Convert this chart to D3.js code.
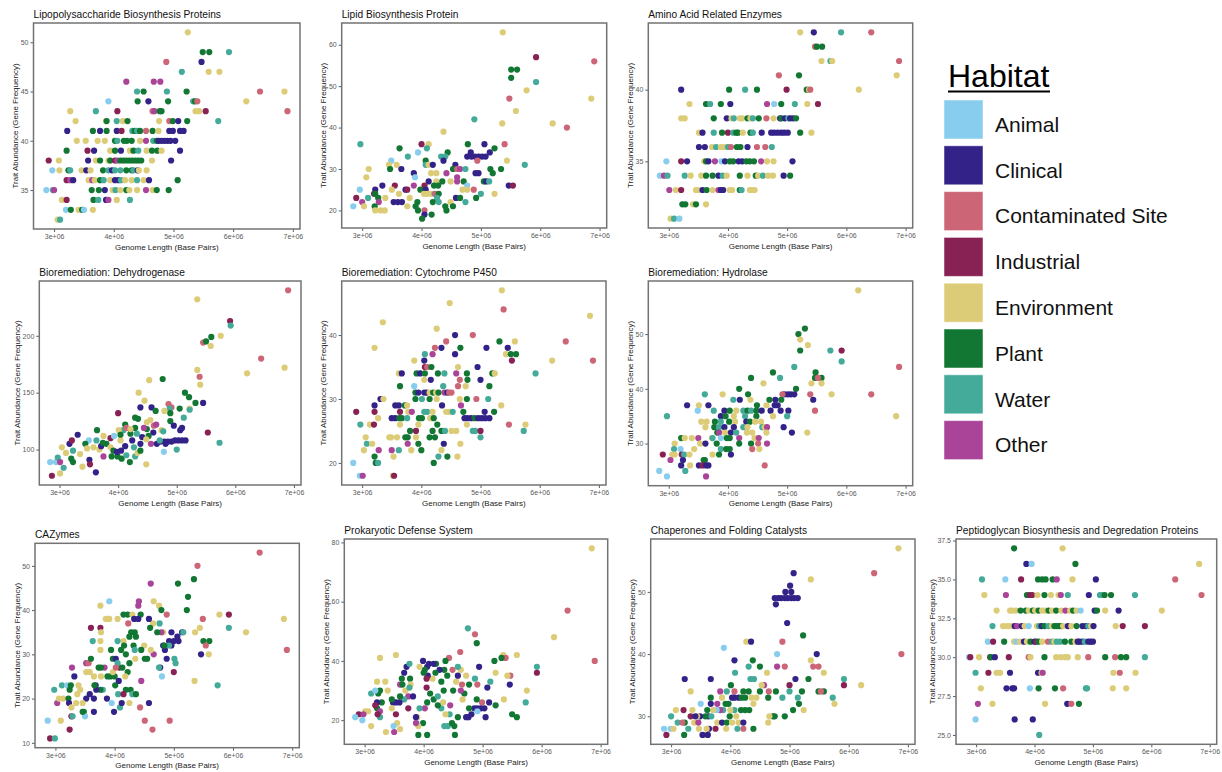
<!DOCTYPE html>
<html>
<head>
<meta charset="utf-8">
<script src="https://cdn.jsdelivr.net/npm/d3@7"></script>
<style>
  body { margin: 0; background: #ffffff; }
  svg { display: block; }
  text { font-family: "Liberation Sans", Arial, Helvetica, sans-serif; }
</style>
</head>
<body>
<svg id="chart" width="1222" height="772"></svg>
<script>
// Habitat categories and their colours
const habitats = ["Animal", "Clinical", "Contaminated Site", "Industrial", "Environment", "Plant", "Water", "Other"];
const habitatCodes = ["A", "C", "T", "I", "E", "P", "W", "O"];
const habitatColors = ["#88CCEE", "#332288", "#CC6677", "#882255", "#DDCC77", "#117733", "#44AA99", "#AA4499"];

// Genome length axis, in millions of base pairs
const genomeDomain = [2.655, 7.12];
const genomeTicks = [3, 4, 5, 6, 7];

// Each point: [genome length (Mbp), gene count, habitat code]
const lpsPoints = [
  [5.24,51,"E"],
  [5.49,49,"P"],[5.60,49,"P"],[5.93,49,"W"],
  [4.88,48,"T"],[5.47,48,"C"],
  [5.14,47,"W"],[5.59,47,"E"],[5.77,47,"E"],
  [4.21,46,"O"],[4.67,46,"O"],[4.78,46,"O"],
  [4.39,45,"W"],[4.50,45,"P"],[4.89,45,"W"],[5.22,45,"P"],[6.45,45,"T"],[6.86,45,"E"],
  [3.91,44,"A"],[4.40,44,"P"],[4.58,44,"C"],[4.91,44,"P"],[5.33,44,"W"],[5.36,44,"P"],[5.40,44,"T"],[6.22,44,"E"],
  [3.27,43,"E"],[3.70,43,"W"],[4.06,43,"I"],[4.65,43,"T"],[4.68,43,"O"],[4.77,43,"P"],[4.80,43,"P"],[5.37,43,"E"],[5.43,43,"E"],[5.54,43,"I"],[6.91,43,"T"],
  [3.36,42,"E"],[3.87,42,"E"],[3.88,42,"P"],[4.05,42,"W"],[4.15,42,"E"],[4.23,42,"P"],[4.76,42,"E"],[4.93,42,"T"],[4.99,42,"P"],[5.08,42,"C"],[5.23,42,"P"],[5.75,42,"W"],
  [3.22,41,"C"],[3.65,41,"P"],[3.77,41,"C"],[3.88,41,"P"],[4.05,41,"C"],[4.13,41,"I"],[4.31,41,"W"],[4.35,41,"P"],[4.39,41,"W"],[4.44,41,"P"],[4.54,41,"T"],[4.65,41,"P"],[4.75,41,"E"],[4.93,41,"C"],[4.99,41,"C"],[5.11,41,"C"],[5.17,41,"C"],
  [3.38,40,"E"],[3.53,40,"E"],[3.73,40,"E"],[3.85,40,"E"],[4.02,40,"P"],[4.06,40,"W"],[4.17,40,"P"],[4.22,40,"P"],[4.30,40,"P"],[4.44,40,"E"],[4.54,40,"O"],[4.66,40,"W"],[4.72,40,"P"],[4.75,40,"C"],[4.80,40,"C"],[4.85,40,"C"],[4.90,40,"C"],[4.95,40,"C"],[5.03,40,"C"],
  [3.21,39,"P"],[3.56,39,"I"],[3.67,39,"C"],[3.94,39,"E"],[4.02,39,"P"],[4.12,39,"C"],[4.27,39,"E"],[4.33,39,"P"],[4.41,39,"W"],[4.55,39,"E"],[4.64,39,"P"],[4.73,39,"P"],[4.80,39,"E"],[5.11,39,"C"],
  [2.91,38,"I"],[3.08,38,"E"],[3.57,38,"C"],[3.70,38,"E"],[3.77,38,"P"],[3.91,38,"E"],[3.94,38,"P"],[4.02,38,"I"],[4.06,38,"O"],[4.11,38,"P"],[4.16,38,"P"],[4.21,38,"P"],[4.26,38,"P"],[4.31,38,"P"],[4.36,38,"P"],[4.41,38,"P"],[4.46,38,"P"],[4.64,38,"E"],[4.96,38,"C"],
  [2.97,37,"A"],[3.09,37,"E"],[3.24,37,"P"],[3.27,37,"W"],[3.46,37,"E"],[3.54,37,"C"],[3.61,37,"E"],[3.82,37,"P"],[3.91,37,"W"],[3.97,37,"C"],[4.02,37,"W"],[4.11,37,"W"],[4.21,37,"P"],[4.30,37,"P"],[4.33,37,"W"],[4.40,37,"C"],[4.42,37,"E"],[4.55,37,"E"],
  [3.21,36,"I"],[3.27,36,"O"],[3.32,36,"C"],[3.58,36,"E"],[3.64,36,"O"],[3.68,36,"E"],[3.77,36,"P"],[3.83,36,"W"],[3.94,36,"E"],[4.02,36,"C"],[4.08,36,"C"],[4.12,36,"W"],[4.19,36,"E"],[4.30,36,"E"],[4.39,36,"W"],[4.50,36,"E"],[4.59,36,"C"],[5.07,36,"P"],
  [2.87,35,"A"],[2.98,35,"W"],[3.00,35,"O"],[3.63,35,"P"],[3.75,35,"P"],[3.85,35,"C"],[3.98,35,"E"],[4.03,35,"W"],[4.11,35,"E"],[4.21,35,"P"],[4.26,35,"E"],[4.39,35,"E"],[4.54,35,"O"],[4.65,35,"E"],[4.72,35,"P"],[4.92,35,"P"],
  [3.13,34,"E"],[3.21,34,"I"],[3.66,34,"P"],[3.74,34,"W"],[3.87,34,"C"],[3.91,34,"O"],[4.05,34,"E"],[4.27,34,"W"],
  [3.20,33,"A"],[3.28,33,"P"],[3.41,33,"E"],[3.47,33,"P"],[3.50,33,"A"],[3.65,33,"E"],
  [3.06,32,"E"],[3.10,32,"W"]
];

const lipidPoints = [
  [5.37,63,"E"],[5.93,57,"I"],[6.91,56,"T"],[5.51,54,"P"],[5.61,54,"P"],[5.51,52,"P"],[5.93,51,"W"],[5.77,49,"E"],[5.48,47,"T"],[6.86,47,"E"],[5.59,44,"E"],[4.89,42,"W"],[5.36,41,"E"],[6.21,41,"E"],[6.45,40,"T"],[4.37,39,"E"],
  [2.97,36,"W"],[4.00,36,"I"],[4.12,36,"E"],[4.78,36,"P"],[5.06,36,"C"],[5.40,36,"T"],
  [3.63,35,"P"],[4.09,35,"W"],[5.23,35,"P"],
  [3.94,34,"A"],[4.44,34,"P"],[4.83,34,"C"],[5.15,34,"C"],
  [3.77,33,"W"],[4.33,33,"W"],[4.40,33,"W"],[4.77,33,"C"],[4.84,33,"C"],[4.90,33,"C"],[4.96,33,"C"],[5.02,33,"C"],[5.08,33,"C"],
  [3.49,32,"A"],[4.07,32,"P"],[4.37,32,"C"],[4.94,32,"T"],[5.44,32,"E"],
  [3.45,31,"E"],[3.58,31,"E"],[4.07,31,"W"],[4.12,31,"E"],[4.19,31,"C"],[4.57,31,"C"],[5.74,31,"W"],
  [3.11,30,"E"],[3.47,30,"P"],[3.66,30,"C"],[4.53,30,"P"],[4.60,30,"T"],[4.65,30,"O"],[4.74,30,"W"],[5.16,30,"P"],[5.34,30,"P"],
  [3.87,29,"C"],[4.16,29,"E"],[4.25,29,"E"],[4.42,29,"O"],[4.91,29,"C"],[4.96,29,"C"],[5.20,29,"P"],
  [3.07,28,"E"],[3.89,28,"A"],[4.60,28,"O"],
  [4.12,27,"C"],[4.25,27,"E"],[4.35,27,"P"],[4.49,27,"E"],[4.60,27,"O"],[4.71,27,"P"],[5.05,27,"P"],[5.09,27,"C"],[5.14,27,"W"],
  [3.34,26,"C"],[3.55,26,"I"],[3.87,26,"O"],[4.05,26,"I"],[4.21,26,"P"],[4.28,26,"P"],[4.77,26,"A"],[5.47,26,"C"],[5.54,26,"I"],
  [2.96,25,"A"],[3.22,25,"C"],[3.50,25,"E"],[3.73,25,"C"],[3.76,25,"I"],[3.98,25,"P"],[4.07,25,"C"],[4.69,25,"E"],[4.77,25,"E"],[4.88,25,"T"],
  [3.20,24,"I"],[3.22,24,"P"],[3.62,24,"E"],[4.04,24,"E"],[4.09,24,"E"],[4.15,24,"E"],[4.22,24,"W"],[4.23,24,"T"],[4.29,24,"P"],[5.00,24,"W"],[5.23,24,"E"],
  [2.90,23,"I"],[3.10,23,"W"],[3.27,23,"P"],[3.39,23,"E"],[3.80,23,"E"],[4.26,23,"W"],[4.58,23,"C"],[4.65,23,"P"],[4.92,23,"P"],
  [3.00,22,"O"],[3.28,22,"O"],[3.53,22,"C"],[3.60,22,"C"],[3.67,22,"C"],[3.93,22,"P"],[4.19,22,"P"],[4.29,22,"W"],[4.49,22,"E"],[4.74,22,"W"],
  [2.85,21,"A"],[3.03,21,"E"],[3.21,21,"P"],[3.76,21,"E"],[3.90,21,"P"],[4.40,21,"P"],[4.53,21,"P"],
  [3.22,20,"E"],[3.31,20,"E"],[3.38,20,"E"],[3.94,20,"P"],[4.05,20,"T"],[4.42,20,"P"],
  [4.05,19,"C"],[4.17,19,"P"],[4.01,18,"P"]
];

const aminoPoints = [
  [5.22,44,"E"],[5.45,44,"C"],[5.91,44,"W"],[6.42,44,"T"],
  [5.47,43,"T"],[5.50,43,"P"],[5.59,43,"P"],
  [5.58,42,"E"],[5.73,42,"W"],[5.76,42,"E"],[6.89,42,"T"],
  [4.86,41,"T"],[5.20,41,"P"],[6.85,41,"E"],
  [3.21,40,"C"],[4.02,40,"P"],[4.29,40,"W"],[4.49,40,"P"],[4.99,40,"I"],[5.33,40,"P"],[5.37,40,"E"],[5.39,40,"T"],[6.21,40,"E"],
  [3.35,39,"E"],[3.63,39,"P"],[3.70,39,"W"],[3.88,39,"P"],[4.04,39,"C"],[4.66,39,"O"],[4.78,39,"A"],[4.90,39,"P"],[5.13,39,"W"],[5.34,39,"E"],[5.52,39,"I"],
  [3.21,38,"E"],[3.27,38,"E"],[3.76,38,"P"],[3.98,38,"C"],[4.06,38,"E"],[4.10,38,"W"],[4.20,38,"E"],[4.24,38,"E"],[4.33,38,"P"],[4.38,38,"E"],[4.42,38,"W"],[4.52,38,"P"],[4.65,38,"T"],[4.77,38,"E"],[4.88,38,"C"],[4.90,38,"P"],[4.96,38,"C"],[5.02,38,"W"],[5.05,38,"C"],[5.10,38,"C"],[5.15,38,"P"],
  [3.51,37,"E"],[3.57,37,"C"],[3.76,37,"W"],[3.90,37,"P"],[4.00,37,"I"],[4.09,37,"W"],[4.14,37,"P"],[4.17,37,"P"],[4.25,37,"E"],[4.38,37,"P"],[4.42,37,"W"],[4.57,37,"C"],[4.73,37,"C"],[4.78,37,"C"],[4.84,37,"C"],[4.90,37,"C"],[4.95,37,"C"],[5.01,37,"C"],[5.22,37,"P"],[5.41,37,"E"],
  [3.51,36,"C"],[3.61,36,"C"],[3.73,36,"E"],[3.80,36,"W"],[3.88,36,"E"],[3.94,36,"E"],[4.00,36,"W"],[4.05,36,"T"],[4.15,36,"P"],[4.21,36,"P"],[4.33,36,"C"],[4.49,36,"T"],[4.63,36,"T"],[4.74,36,"W"],
  [2.96,35,"A"],[3.21,35,"I"],[3.31,35,"C"],[3.60,35,"E"],[3.63,35,"P"],[3.67,35,"C"],[3.78,35,"O"],[3.89,35,"A"],[3.95,35,"C"],[4.03,35,"P"],[4.09,35,"P"],[4.18,35,"C"],[4.24,35,"C"],[4.31,35,"P"],[4.37,35,"P"],[4.44,35,"P"],[4.56,35,"O"],[4.66,35,"E"],[4.77,35,"E"],[5.09,35,"C"],
  [2.85,34,"A"],[2.92,34,"O"],[2.98,34,"W"],[3.27,34,"W"],[3.37,34,"E"],[3.55,34,"E"],[3.63,34,"P"],[3.74,34,"P"],[3.84,34,"C"],[3.91,34,"W"],[3.98,34,"E"],[4.20,34,"P"],[4.33,34,"E"],[4.47,34,"P"],[4.51,34,"E"],[4.59,34,"W"],[4.68,34,"E"],[4.76,34,"E"],[4.94,34,"C"],[5.05,34,"P"],
  [3.01,33,"O"],[3.12,33,"E"],[3.21,33,"I"],[3.46,33,"E"],[3.50,33,"E"],[3.57,33,"C"],[3.64,33,"P"],[3.74,33,"E"],[3.84,33,"O"],[3.88,33,"C"],[3.92,33,"C"],[4.03,33,"E"],[4.07,33,"E"],[4.20,33,"P"],[4.23,33,"W"],[4.37,33,"E"],[4.41,33,"E"],[4.45,33,"E"],
  [3.23,32,"P"],[3.28,32,"P"],[3.41,32,"E"],[3.46,32,"P"],[3.63,32,"E"],
  [3.03,31,"E"],[3.09,31,"W"],[3.18,31,"A"]
];

const dehydrogenasePoints = [
  [6.90,240,"T"],[5.35,232,"E"],[5.91,213,"I"],[5.92,209,"W"],[5.75,200,"E"],[5.59,199,"P"],[5.45,194,"T"],[5.50,195,"P"],[5.58,191,"E"],[6.44,180,"T"],[6.84,172,"E"],[6.20,167,"E"],[5.35,170,"E"],[5.39,164,"T"],[5.40,157,"E"],[4.76,162,"P"],[4.53,161,"E"],
  [4.35,150,"E"],[5.14,150,"P"],[5.21,146,"P"],[4.45,143,"E"],[5.32,141,"P"],[5.45,141,"C"],[4.86,140,"T"],[4.38,137,"C"],[4.57,137,"C"],[4.91,137,"T"],[4.88,136,"W"],[4.79,134,"E"],[4.89,132,"P"],[5.05,136,"P"],[5.22,136,"E"],[5.22,135,"W"],[4.00,132,"I"],[4.64,134,"P"],
  [4.89,125,"P"],[5.12,128,"W"],[4.29,128,"P"],[4.34,127,"P"],[4.55,126,"E"],[4.49,124,"E"],[5.09,119,"C"],[5.06,117,"C"],[4.95,121,"C"],[4.61,121,"T"],[4.65,122,"O"],[4.74,117,"E"],[4.77,116,"W"],[4.49,118,"P"],[4.60,115,"C"],
  [4.72,107,"C"],[4.79,107,"C"],[4.85,107,"C"],[4.91,107,"C"],[4.97,108,"C"],[5.03,108,"C"],[5.09,108,"C"],[5.15,108,"C"],[4.81,105,"C"],[5.53,115,"I"],[5.73,106,"W"],[5.00,100,"W"],[4.78,98,"A"],[4.48,87,"E"],
  [2.87,77,"I"],[2.84,89,"A"],[2.94,89,"A"],[2.97,93,"W"],[3.01,89,"O"],[3.01,79,"E"],[3.07,84,"W"],[3.04,102,"E"],[3.11,97,"E"],[3.17,105,"C"],[3.21,108,"I"],[3.23,99,"W"],[3.20,92,"P"],[3.23,89,"P"],[3.31,113,"C"],[3.35,96,"E"],[3.39,85,"E"],
  [3.50,108,"A"],[3.44,105,"P"],[3.47,101,"E"],[3.51,91,"C"],[3.52,87,"I"],[3.58,102,"E"],[3.62,80,"C"],[3.64,117,"P"],[3.63,108,"W"],[3.68,100,"E"],[3.75,112,"E"],[3.71,103,"C"],[3.75,94,"O"],[3.80,105,"P"],[3.87,102,"E"],[3.87,110,"I"],[3.92,99,"P"],[3.89,94,"P"],[3.99,94,"P"],
  [4.06,92,"P"],[4.04,108,"E"],[3.93,112,"A"],[3.98,98,"C"],[4.14,95,"W"],[4.20,89,"P"],[4.29,94,"W"],[4.33,97,"E"],[4.38,99,"P"],[4.27,102,"W"],[4.12,103,"C"],[4.05,99,"C"],[4.12,122,"P"],[4.09,117,"W"],[4.14,119,"T"],[4.01,117,"E"],[4.04,113,"P"],[4.21,114,"P"],
  [4.24,108,"C"],[4.29,119,"P"],[4.32,114,"W"],[4.41,111,"C"],[4.44,119,"O"],[4.52,112,"P"],[4.56,105,"O"],[4.38,105,"C"],[4.48,109,"E"],[4.66,105,"C"],[4.71,108,"W"],[4.21,118,"E"],[3.74,106,"P"]
];

const cytochromePoints = [
  [5.36,47,"E"],[4.48,45,"E"],[5.39,44,"T"],[6.85,43,"E"],[3.35,42,"E"],[4.26,41,"E"],[4.57,40,"C"],[4.87,40,"T"],
  [5.32,39,"P"],[6.44,39,"T"],[4.42,39,"T"],[5.58,39,"E"],
  [3.21,38,"E"],[4.23,38,"T"],[4.34,38,"C"],[5.10,38,"C"],[4.66,38,"P"],[5.46,38,"C"],
  [4.57,37,"C"],[5.43,37,"E"],[5.51,37,"P"],[5.60,37,"P"],[4.06,37,"W"],[4.19,37,"O"],
  [3.88,36,"E"],[4.05,36,"C"],[5.53,36,"I"],[6.21,36,"E"],[6.90,36,"T"],
  [4.06,35,"I"],[4.10,35,"T"],[4.17,35,"P"],[4.62,35,"E"],[4.95,35,"C"],
  [3.62,34,"E"],[3.67,34,"C"],[3.92,34,"P"],[3.98,34,"C"],[4.06,34,"P"],[4.28,34,"P"],[4.39,34,"W"],[4.59,34,"O"],[4.77,34,"P"],[5.20,34,"P"],[5.24,34,"E"],[5.93,34,"W"],
  [4.05,33,"E"],[4.16,33,"C"],[4.65,33,"T"],[4.78,33,"P"],[5.00,33,"C"],
  [3.64,32,"P"],[3.88,32,"A"],[4.37,32,"W"],[4.62,32,"T"],[4.75,32,"E"],[5.15,32,"P"],
  [3.90,31,"P"],[3.95,31,"C"],[4.05,31,"C"],[4.09,31,"C"],[4.14,31,"E"],[4.20,31,"P"],[4.25,31,"E"],[4.29,31,"P"],[4.39,31,"O"],[4.44,31,"C"],[4.47,31,"T"],[4.51,31,"T"],
  [3.31,30,"C"],[3.36,30,"E"],[3.90,30,"P"],[4.01,30,"W"],[4.14,30,"P"],[4.26,30,"E"],[4.65,30,"E"],[4.77,30,"P"],[4.93,30,"T"],[5.13,30,"W"],
  [3.21,29,"C"],[3.56,29,"C"],[3.62,29,"C"],[3.72,29,"P"],[3.76,29,"E"],[4.35,29,"C"],[4.67,29,"O"],[5.35,29,"E"],
  [2.90,28,"I"],[3.21,28,"I"],[3.64,28,"I"],[3.78,28,"E"],[3.84,28,"O"],[4.05,28,"W"],[4.10,28,"W"],[4.19,28,"E"],[4.42,28,"E"],[4.47,28,"E"],[4.53,28,"W"],[4.71,28,"P"],[5.07,28,"C"],[5.23,28,"P"],
  [3.27,27,"E"],[3.50,27,"C"],[3.56,27,"C"],[3.63,27,"P"],[3.67,27,"P"],[3.76,27,"W"],[3.96,27,"P"],[4.01,27,"P"],[4.15,27,"E"],[4.21,27,"P"],[4.73,27,"C"],[4.78,27,"C"],[4.84,27,"C"],[4.90,27,"P"],[4.96,27,"C"],[5.02,27,"C"],[5.08,27,"C"],[5.15,27,"C"],
  [2.97,26,"W"],[3.13,26,"E"],[3.20,26,"I"],[3.64,26,"E"],[3.95,26,"E"],[4.27,26,"P"],[4.77,26,"E"],[5.48,26,"T"],[5.76,26,"E"],
  [3.81,25,"P"],[3.91,25,"I"],[4.19,25,"P"],[4.34,25,"P"],[4.40,25,"W"],[4.51,25,"E"],[4.59,25,"E"],[4.87,25,"W"],[4.91,25,"W"],[5.00,25,"I"],[5.73,25,"W"],
  [3.06,24,"E"],[3.46,24,"E"],[3.49,24,"E"],[3.59,24,"E"],[3.73,24,"P"],[3.77,24,"P"],[3.91,24,"E"],[4.14,24,"P"],[4.23,24,"P"],[5.00,24,"W"],
  [3.08,23,"W"],[3.17,23,"E"],[3.77,23,"O"],[3.95,23,"P"],[4.38,23,"C"],[4.66,23,"E"],
  [3.03,22,"E"],[3.28,22,"O"],[3.50,22,"O"],[3.62,22,"W"],[3.83,22,"E"],[4.00,22,"P"],[4.34,22,"E"],
  [3.21,21,"P"],[3.53,21,"E"],[4.29,21,"W"],[4.44,21,"P"],[4.61,21,"E"],
  [2.85,20,"A"],[3.23,20,"P"],[3.27,20,"W"],[4.21,20,"P"],
  [2.96,18,"A"],[3.01,18,"O"],[3.52,18,"E"],[3.54,18,"I"]
];

const hydrolasePoints = [
  [6.20,58,"E"],[5.30,51,"P"],[5.19,50,"P"],[5.22,49,"E"],[5.22,47,"P"],[5.35,48,"E"],[5.73,47,"W"],[5.92,47,"I"],[5.92,45,"W"],[5.12,44,"W"],[6.89,44,"T"],[4.76,43,"P"],[5.48,43,"P"],[4.88,42,"W"],[4.39,42,"P"],[5.58,42,"P"],[5.47,42,"P"],[5.52,42,"T"],[4.60,41,"E"],[5.41,41,"E"],[5.58,41,"E"],[6.42,39,"T"],[6.84,35,"E"],
  [4.19,40,"P"],[5.15,40,"P"],[4.34,39,"P"],[4.95,39,"C"],[5.01,39,"C"],[5.06,39,"C"],[5.12,39,"C"],[4.92,39,"T"],[5.39,39,"T"],[5.75,39,"E"],[3.91,39,"E"],[3.61,39,"W"],
  [4.09,38,"W"],[4.20,38,"C"],[4.38,38,"E"],[4.70,38,"P"],[4.80,38,"C"],[4.90,38,"P"],[5.44,38,"C"],
  [3.31,37,"C"],[3.67,37,"C"],[3.51,37,"E"],[4.49,37,"P"],[4.65,37,"E"],[4.79,37,"C"],[4.84,37,"C"],
  [3.49,36,"A"],[3.76,36,"W"],[3.94,36,"C"],[4.03,36,"P"],[4.14,36,"E"],[4.26,36,"W"],[4.33,36,"P"],[4.39,36,"W"],[4.48,36,"P"],[4.57,36,"C"],[4.72,36,"C"],[4.89,36,"C"],[5.02,36,"C"],[5.47,36,"T"],
  [2.97,35,"W"],[3.88,35,"C"],[3.96,35,"P"],[4.10,35,"E"],[4.29,35,"W"],[4.48,35,"P"],[4.76,35,"E"],[5.00,35,"W"],
  [3.55,34,"E"],[3.64,34,"E"],[3.78,34,"P"],[3.88,34,"W"],[4.02,34,"P"],[4.12,34,"E"],[4.31,34,"C"],[4.37,34,"P"],[4.46,34,"E"],[4.56,34,"E"],
  [3.62,33,"E"],[3.77,33,"P"],[3.85,33,"W"],[3.94,33,"C"],[4.10,33,"C"],[4.26,33,"W"],[4.33,33,"E"],[4.58,33,"W"],[4.62,33,"E"],[4.66,33,"O"],[4.94,33,"C"],
  [3.82,32,"P"],[3.85,32,"O"],[3.95,32,"E"],[4.05,32,"C"],[4.14,32,"W"],[4.32,32,"E"],[4.41,32,"E"],[4.65,32,"E"],[5.08,32,"C"],[5.34,32,"E"],
  [3.21,31,"P"],[3.27,31,"E"],[3.39,31,"E"],[3.50,31,"O"],[3.73,31,"E"],[3.74,31,"W"],[3.88,31,"A"],[3.98,31,"P"],[4.03,31,"P"],[4.19,31,"O"],[4.45,31,"E"],[4.52,31,"O"],
  [3.10,30,"E"],[3.53,30,"E"],[3.62,30,"C"],[3.81,30,"P"],[4.19,30,"P"],[4.39,30,"P"],[4.51,30,"T"],[4.66,30,"O"],
  [3.09,29,"W"],[3.20,29,"A"],[3.43,29,"E"],[3.88,29,"W"],[3.97,29,"P"],[4.03,29,"P"],[4.41,29,"T"],[4.53,29,"E"],
  [2.90,28,"I"],[3.06,28,"E"],[3.10,28,"E"],[3.22,28,"I"],[3.26,28,"W"],[3.35,28,"E"],[3.74,28,"E"],[3.85,28,"P"],[4.05,28,"C"],
  [3.03,27,"O"],[3.24,27,"C"],[3.59,27,"P"],[3.61,27,"P"],
  [3.21,26,"C"],[3.36,26,"E"],[3.51,26,"C"],[3.57,26,"I"],[3.63,26,"C"],[3.67,26,"C"],[4.62,26,"T"],
  [2.84,25,"A"],[3.28,25,"W"],[2.97,24,"A"],[3.63,24,"O"]
];

const cazymePoints = [
  [6.45,53,"T"],[5.40,50,"T"],[5.34,47,"P"],[4.61,46,"O"],[5.07,46,"P"],[5.24,43,"P"],[3.91,42,"A"],[4.41,42,"O"],[4.66,42,"E"],[4.40,41,"O"],[3.76,41,"E"],[4.75,41,"E"],[4.79,40,"P"],[5.22,40,"P"],[5.77,39,"E"],[5.93,39,"I"],[6.86,38,"E"],[4.88,39,"T"],[5.49,38,"T"],
  [5.44,36,"E"],[5.93,36,"W"],[6.22,35,"E"],[5.36,35,"E"],[6.91,31,"T"],[5.35,24,"E"],[5.74,23,"W"],[5.50,33,"P"],[5.60,33,"P"],[5.54,32,"T"],[5.46,30,"C"],[5.59,30,"E"],
  [5.14,35,"C"],[5.16,35,"W"],[5.06,34,"C"],[5.00,33,"C"],[4.92,33,"C"],[5.08,33,"C"],[4.96,32,"C"],[4.82,32,"C"],[4.85,31,"C"],[4.92,32,"W"],[4.88,29,"C"],[4.77,27,"C"],[5.01,29,"W"],[5.03,28,"W"],[4.84,32,"P"],[4.96,35,"C"],[5.00,26,"I"],
  [4.93,15,"T"],[4.64,13,"T"],[4.51,15,"T"],[4.43,18,"T"],[4.58,19,"C"],[4.80,25,"A"],[4.75,27,"W"],[4.82,35,"E"],[4.79,35,"O"],[4.76,37,"W"],[4.72,35,"P"],[4.65,37,"E"],[4.58,38,"C"],[4.60,36,"P"],[4.66,30,"O"],[4.61,31,"E"],
  [3.85,38,"E"],[3.88,38,"E"],[3.91,38,"E"],[3.76,36,"I"],[4.05,38,"E"],[4.15,39,"P"],[4.22,39,"P"],[4.30,39,"E"],[4.44,39,"P"],[4.23,37,"T"],[4.28,35,"P"],[4.34,35,"P"],[4.33,38,"C"],[4.40,38,"C"],[4.36,34,"P"],[4.25,34,"P"],[4.15,33,"E"],[4.05,33,"W"],[3.63,33,"W"],[3.76,33,"E"],
  [4.32,32,"P"],[4.50,32,"E"],[4.45,31,"P"],[4.51,29,"P"],[4.55,29,"P"],[4.34,31,"W"],[4.35,29,"E"],[4.16,32,"P"],[4.11,31,"P"],[3.94,31,"P"],[3.97,29,"P"],[4.02,29,"C"],[4.19,30,"P"],[4.25,28,"P"],[4.08,27,"I"],[4.05,28,"W"],[4.13,27,"P"],
  [3.83,27,"O"],[3.77,27,"P"],[3.73,27,"P"],[3.77,25,"E"],[3.65,25,"E"],[3.58,26,"E"],[3.52,26,"E"],[3.52,28,"O"],[3.56,28,"T"],[3.60,29,"P"],[3.88,25,"P"],[3.93,25,"P"],[4.00,25,"P"],[3.97,26,"E"],[4.02,27,"T"],[4.22,26,"P"],[4.18,25,"E"],
  [4.01,23,"P"],[4.07,24,"C"],[4.19,22,"P"],[4.27,22,"P"],[4.30,21,"W"],[4.06,21,"W"],[4.09,18,"W"],[3.95,19,"A"],[4.12,19,"C"],[4.25,19,"E"],[3.99,17,"C"],[4.15,21,"I"],[4.45,24,"O"],[4.36,21,"P"],
  [3.80,22,"W"],[3.76,22,"P"],[3.68,23,"C"],[3.69,22,"C"],[3.66,23,"P"],[3.58,21,"C"],[3.52,20,"C"],[3.65,20,"C"],[3.87,20,"C"],[3.48,17,"P"],[3.65,17,"C"],[3.50,16,"A"],[3.27,16,"I"],[3.29,16,"W"],[3.24,13,"I"],[3.09,15,"E"],[2.87,15,"A"],[2.91,11,"I"],[2.99,11,"W"],
  [3.03,19,"O"],[3.06,20,"E"],[3.13,20,"E"],[2.98,22,"W"],[3.11,23,"W"],[3.20,23,"A"],[3.22,20,"P"],[3.24,22,"P"],[3.26,23,"P"],[3.23,19,"C"],[3.27,18,"E"],[3.28,27,"O"],[3.32,25,"C"],[3.39,23,"E"],[3.42,22,"E"],[3.35,19,"E"],[3.46,19,"E"],[3.46,17,"P"],[3.37,21,"E"],
  [3.60,36,"I"],[3.76,31,"E"],[3.77,35,"E"]
];

const defensePoints = [
  [6.85,78,"E"],[6.44,57,"T"],[4.75,51,"W"],[4.87,49,"T"],[4.90,46,"P"],[6.21,48,"E"],[6.90,40,"T"],[5.92,38,"W"],[5.92,36,"I"],[5.35,42,"E"],[5.39,41,"T"],[5.32,41,"P"],[5.58,42,"E"],[5.20,40,"P"],[5.22,36,"E"],[4.94,38,"C"],[5.47,35,"T"],[5.42,35,"E"],[5.46,32,"C"],[5.13,33,"W"],[5.08,31,"C"],
  [5.75,30,"E"],[5.73,26,"W"],[5.36,27,"E"],[5.22,25,"P"],[5.50,22,"P"],[5.58,21,"P"],[5.05,21,"C"],[5.11,26,"C"],[4.99,26,"T"],
  [4.76,21,"C"],[4.81,22,"C"],[4.86,24,"C"],[4.91,24,"C"],[4.97,24,"C"],[5.03,24,"C"],[4.77,24,"P"],[4.90,27,"P"],[4.91,23,"A"],[4.72,21,"C"],[4.91,32,"T"],[4.87,34,"W"],[4.77,32,"P"],[4.72,35,"E"],[4.69,29,"P"],[4.63,30,"O"],[4.62,43,"T"],[4.49,37,"T"],[4.63,37,"E"],[4.55,33,"E"],[4.65,32,"T"],[4.58,35,"C"],[4.58,38,"W"],
  [4.43,41,"T"],[4.37,40,"P"],[4.35,37,"P"],[4.40,35,"P"],[4.34,30,"P"],[4.50,30,"P"],[4.66,27,"E"],[4.58,21,"P"],[4.52,18,"P"],[4.53,15,"P"],[4.45,25,"O"],[4.44,22,"W"],[4.37,22,"E"],[4.30,24,"W"],[4.30,33,"P"],[4.27,37,"C"],[4.21,39,"P"],[4.20,36,"P"],[4.17,39,"C"],[4.15,34,"E"],[4.07,35,"C"],
  [3.99,40,"C"],[4.09,39,"C"],[4.06,38,"C"],[4.02,37,"P"],[4.00,36,"P"],[3.93,38,"E"],[4.05,34,"I"],[4.05,31,"I"],[4.11,29,"P"],[4.17,27,"P"],[4.24,28,"W"],[4.33,26,"E"],[4.24,25,"P"],[4.06,26,"P"],[4.02,24,"O"],[3.93,24,"W"],[3.89,21,"E"],[3.87,21,"C"],[3.88,19,"A"],[3.91,15,"P"],[4.06,15,"P"],[3.99,19,"P"],[3.91,18,"E"],[3.87,19,"O"],[4.35,18,"W"],[4.41,18,"W"],[4.48,19,"P"],
  [3.71,38,"C"],[3.67,36,"C"],[3.76,39,"W"],[3.77,34,"P"],[3.63,34,"P"],[3.78,32,"E"],[3.60,32,"O"],[3.64,32,"P"],[3.69,30,"E"],[3.74,28,"O"],[3.82,28,"C"],[3.76,31,"W"],[3.74,24,"I"],[3.67,27,"W"],[3.60,28,"P"],[3.53,22,"I"],[3.48,26,"C"],[3.53,26,"C"],[3.59,26,"C"],[3.46,27,"P"],[3.46,24,"E"],[3.55,19,"E"],[3.60,17,"E"],[3.50,16,"O"],[3.49,18,"A"],[3.36,16,"E"],
  [3.53,42,"E"],[3.39,30,"E"],[3.35,33,"E"],[3.26,41,"E"],[3.21,33,"E"],[3.26,30,"P"],[3.23,29,"P"],[3.11,29,"W"],[3.29,26,"P"],[3.21,24,"P"],[3.21,26,"C"],[3.18,25,"I"],[3.26,23,"O"],[3.26,21,"W"],[3.22,22,"I"],[3.18,30,"A"],[3.01,23,"E"],[3.06,23,"E"],[2.90,22,"I"],[2.98,22,"O"],[2.84,21,"A"],[2.96,20,"A"],[3.11,18,"E"]
];

const chaperonePoints = [
  [6.84,57,"E"],[6.43,53,"T"],[5.07,53,"C"],[5.36,52,"E"],[5.01,51,"C"],[4.93,50,"C"],[5.03,50,"C"],
  [4.75,49,"C"],[4.81,49,"C"],[4.86,49,"C"],[4.92,49,"C"],[4.97,49,"C"],[5.03,49,"C"],[5.08,49,"C"],[5.14,49,"C"],[4.77,48,"C"],[4.96,45,"C"],[5.23,43,"P"],[4.88,42,"T"],[4.27,42,"E"],[4.35,42,"C"],[3.89,41,"A"],[4.79,40,"A"],[5.46,40,"C"],[6.89,40,"T"],
  [4.07,39,"C"],[4.38,39,"P"],[5.36,39,"E"],[5.40,38,"T"],[5.49,38,"T"],[5.58,37,"E"],[4.08,37,"W"],[4.62,37,"E"],[4.50,38,"P"],[4.31,38,"W"],[4.79,38,"O"],[4.92,38,"T"],[3.23,36,"C"],[3.67,36,"C"],[4.34,36,"W"],[4.40,36,"W"],[5.32,36,"P"],[5.92,36,"W"],[5.92,35,"I"],[6.21,35,"E"],[5.10,36,"C"],[5.00,35,"I"],
  [5.49,34,"P"],[5.58,34,"P"],[5.53,34,"T"],[5.73,33,"W"],[5.76,32,"E"],[5.16,32,"P"],[5.14,33,"W"],[5.21,34,"P"],[5.24,31,"E"],[5.06,31,"P"],[5.00,34,"W"],[4.88,33,"W"],[4.92,30,"P"],[4.75,30,"P"],[4.72,30,"P"],[4.77,34,"P"],[4.65,34,"T"],[4.64,33,"P"],[4.66,30,"E"],[4.64,29,"E"],
  [4.57,35,"O"],[4.53,35,"E"],[4.50,34,"P"],[4.31,34,"P"],[4.22,34,"P"],[4.01,35,"P"],[3.94,34,"W"],[4.07,34,"T"],[3.83,34,"O"],[3.86,33,"E"],[4.03,33,"C"],[4.07,33,"C"],[4.14,33,"C"],[4.19,33,"P"],[4.25,33,"P"],[4.36,33,"E"],[4.44,33,"E"],[4.39,32,"E"],
  [4.32,31,"P"],[4.25,31,"P"],[4.18,31,"P"],[4.07,31,"W"],[4.00,31,"E"],[3.88,31,"W"],[3.83,31,"O"],[3.92,32,"P"],[3.97,32,"P"],[3.78,32,"O"],[3.77,31,"A"],[3.63,30,"C"],[3.58,30,"P"],[3.68,30,"W"],[3.49,30,"C"],[3.44,30,"E"],[3.33,30,"I"],[3.41,30,"C"],
  [3.78,29,"E"],[3.86,29,"C"],[3.94,29,"P"],[4.03,29,"E"],[4.14,29,"E"],[3.99,30,"P"],[4.10,30,"E"],[4.22,29,"C"],[4.39,28,"P"],[4.22,28,"T"],[3.93,28,"E"],[4.12,28,"W"],[3.75,28,"I"],[3.64,28,"C"],[3.60,28,"E"],[3.47,28,"E"],[3.29,28,"W"],[3.57,27,"E"],[3.53,27,"C"],[3.62,27,"C"],[3.22,27,"P"],
  [2.92,27,"I"],[2.88,28,"A"],[2.99,28,"A"],[3.04,28,"E"],[3.00,30,"W"],[3.08,31,"E"],[3.11,29,"W"],[3.23,29,"P"],[3.21,31,"I"],[3.19,29,"T"],[3.36,31,"E"],[3.33,34,"E"],[3.50,32,"A"],[3.67,33,"P"],[3.71,31,"E"],[3.61,31,"P"],[3.67,32,"C"],[3.39,29,"E"],[3.46,29,"O"]
];

const peptidoglycanPoints = [
  [3.65,37,"P"],[4.48,37,"E"],
  [3.86,36,"C"],[3.95,36,"A"],[4.70,36,"P"],[6.82,36,"E"],
  [3.10,35,"W"],[3.50,35,"A"],[3.77,35,"I"],[4.06,35,"P"],[4.13,35,"P"],[4.19,35,"P"],[4.31,35,"P"],[4.38,35,"O"],[4.65,35,"E"],[5.05,35,"C"],[6.41,35,"T"],
  [3.14,34,"E"],[3.51,34,"O"],[3.87,34,"P"],[3.92,34,"I"],[3.96,34,"I"],[4.05,34,"E"],[4.17,34,"P"],[4.28,34,"E"],[4.41,34,"E"],[4.45,34,"O"],[4.57,34,"W"],[4.93,34,"C"],[5.12,34,"W"],[5.15,34,"W"],[5.20,34,"P"],[5.31,34,"P"],[5.72,34,"W"],[6.86,34,"T"],
  [3.35,33,"E"],[3.58,33,"E"],[3.62,33,"E"],[3.68,33,"E"],[3.76,33,"P"],[3.85,33,"P"],[3.90,33,"E"],[3.97,33,"P"],[4.01,33,"E"],[4.07,33,"P"],[4.13,33,"E"],[4.18,33,"E"],[4.24,33,"P"],[4.30,33,"E"],[4.37,33,"P"],[4.46,33,"E"],[4.53,33,"O"],[4.61,33,"E"],[4.66,33,"P"],[4.72,33,"E"],[4.79,33,"A"],[5.03,33,"C"],[5.07,33,"P"],[5.21,33,"E"],[5.44,33,"C"],[6.18,33,"E"],
  [3.28,32,"W"],[3.46,32,"E"],[3.52,32,"E"],[3.56,32,"E"],[3.62,32,"E"],[3.66,32,"C"],[3.70,32,"O"],[3.78,32,"C"],[3.83,32,"E"],[3.90,32,"A"],[4.04,32,"E"],[4.08,32,"W"],[4.12,32,"C"],[4.17,32,"P"],[4.24,32,"W"],[4.30,32,"E"],[4.34,32,"P"],[4.38,32,"P"],[4.42,32,"P"],[4.46,32,"P"],[4.49,32,"E"],[4.57,32,"C"],[4.63,32,"E"],[4.72,32,"P"],[4.82,32,"C"],[4.88,32,"C"],[4.92,32,"W"],[4.97,32,"E"],[5.01,32,"C"],[5.39,32,"E"],[5.51,32,"I"],[5.89,32,"I"],
  [3.20,31,"A"],[3.29,31,"I"],[3.48,31,"P"],[3.65,31,"E"],[3.69,31,"A"],[3.75,31,"E"],[3.82,31,"C"],[3.87,31,"E"],[3.93,31,"P"],[4.00,31,"C"],[4.03,31,"I"],[4.07,31,"P"],[4.13,31,"E"],[4.23,31,"T"],[4.30,31,"W"],[4.34,31,"E"],[4.38,31,"W"],[4.44,31,"W"],[4.52,31,"P"],[4.63,31,"P"],[4.70,31,"E"],[4.74,31,"C"],[4.77,31,"C"],[4.82,31,"C"],[4.86,31,"W"],[4.92,31,"C"],[4.96,31,"C"],[5.00,31,"C"],
  [2.88,30,"A"],[2.90,30,"I"],[3.05,30,"E"],[3.24,30,"I"],[3.25,30,"P"],[3.32,30,"C"],[3.56,30,"I"],[3.90,30,"T"],[3.93,30,"E"],[4.17,30,"P"],[4.37,30,"E"],[4.45,30,"E"],[4.52,30,"E"],[4.57,30,"E"],[4.74,30,"E"],[4.92,30,"T"],[5.21,30,"P"],[5.38,30,"T"],[5.48,30,"P"],[5.57,30,"P"],[5.89,30,"W"],
  [2.99,29,"W"],[3.21,29,"I"],[3.35,29,"E"],[3.41,29,"E"],[3.58,29,"C"],[4.06,29,"C"],[4.12,29,"E"],[4.14,29,"O"],[5.35,29,"E"],[5.46,29,"T"],[5.73,29,"E"],
  [3.08,28,"E"],[3.52,28,"C"],[3.62,28,"C"],[3.65,28,"C"],[3.92,28,"A"],[4.07,28,"P"],[4.35,28,"P"],[4.49,28,"T"],[4.88,28,"W"],[4.90,28,"W"],[5.34,28,"E"],[5.57,28,"E"],
  [3.03,27,"O"],[3.28,27,"E"],[4.18,27,"E"],[4.56,27,"C"],[4.63,27,"T"],[4.76,27,"P"],
  [2.99,26,"A"],[3.66,26,"C"],[3.97,26,"C"],
  [4.08,25,"W"]
];

// Y-axis tick values per panel
const lpsTicks = [35, 40, 45, 50];
const lipidTicks = [20, 30, 40, 50, 60];
const aminoTicks = [35, 40];
const dehydrogenaseTicks = [100, 150, 200];
const cytochromeTicks = [20, 30, 40];
const hydrolaseTicks = [30, 40, 50];
const cazymeTicks = [10, 20, 30, 40, 50];
const defenseTicks = [20, 40, 60, 80];
const chaperoneTicks = [30, 40, 50];
const peptidoglycanTicks = [25, 27.5, 30, 32.5, 35, 37.5];

// Panel layout: plot-area box [left, top, right, bottom] in pixels
const panels = [
  { title: "Lipopolysaccharide Biosynthesis Proteins", data: lpsPoints, ticks: lpsTicks, box: [33.5, 23, 300, 229] },
  { title: "Lipid Biosynthesis Protein", data: lipidPoints, ticks: lipidTicks, box: [341.7, 23, 606.7, 228] },
  { title: "Amino Acid Related Enzymes", data: aminoPoints, ticks: aminoTicks, box: [648.3, 23, 912.7, 228] },
  { title: "Bioremediation: Dehydrogenase", data: dehydrogenasePoints, ticks: dehydrogenaseTicks, box: [39.3, 281, 301, 485] },
  { title: "Bioremediation: Cytochrome P450", data: cytochromePoints, ticks: cytochromeTicks, box: [341.7, 281, 606, 485] },
  { title: "Bioremediation: Hydrolase", data: hydrolasePoints, ticks: hydrolaseTicks, box: [648.3, 281, 912.7, 485.7] },
  { title: "CAZymes", data: cazymePoints, ticks: cazymeTicks, box: [35, 543.3, 299.3, 747.7] },
  { title: "Prokaryotic Defense System", data: defensePoints, ticks: defenseTicks, box: [344.3, 539, 607.7, 744.3] },
  { title: "Chaperones and Folding Catalysts", data: chaperonePoints, ticks: chaperoneTicks, box: [650.7, 539, 915, 744.3] },
  { title: "Peptidoglycan Biosynthesis and Degredation Proteins", data: peptidoglycanPoints, ticks: peptidoglycanTicks, box: [956, 539, 1216.7, 744.3], fmt: d3.format(".1f") }
];

const svg = d3.select("#chart");
const color = d3.scaleOrdinal().domain(habitatCodes).range(habitatColors);

function styleAxis(g) {
  g.select(".domain").remove();
  g.selectAll(".tick line").attr("stroke", "#333333").attr("stroke-width", 0.8);
  g.selectAll(".tick text")
    .attr("fill", "#5a5a5a")
    .style("font-size", "7px")
    .style("font-family", "'Liberation Sans', Arial, sans-serif");
}

panels.forEach(p => {
  const [x0, y0, x1, y1] = p.box;
  const g = svg.append("g");

  const x = d3.scaleLinear().domain(genomeDomain).range([x0, x1]);
  const ext = d3.extent(p.data, d => d[1]);
  const pad = (ext[1] - ext[0]) * 0.05;
  const y = d3.scaleLinear().domain([ext[0] - pad, ext[1] + pad]).range([y1, y0]);

  const xAxis = g.append("g")
    .attr("transform", `translate(0,${y1})`)
    .call(d3.axisBottom(x).tickValues(genomeTicks).tickFormat(d => d + "e+06").tickSize(3).tickPadding(2));
  styleAxis(xAxis);

  const yAxis = g.append("g")
    .attr("transform", `translate(${x0},0)`)
    .call(d3.axisLeft(y).tickValues(p.ticks).tickFormat(p.fmt || d3.format("d")).tickSize(3).tickPadding(2));
  styleAxis(yAxis);

  // points
  g.append("g")
    .selectAll("circle")
    .data(p.data)
    .join("circle")
    .attr("cx", d => x(d[0]))
    .attr("cy", d => y(d[1]))
    .attr("r", 3.1)
    .attr("fill", d => color(d[2]));

  // panel border
  g.append("rect")
    .attr("x", x0).attr("y", y0)
    .attr("width", x1 - x0).attr("height", y1 - y0)
    .attr("fill", "none")
    .attr("stroke", "#737373")
    .attr("stroke-width", 1.5);

  // titles
  g.append("text")
    .attr("x", x0).attr("y", y0 - 5)
    .attr("fill", "#111111")
    .style("font-size", "10.2px")
    .text(p.title);

  g.append("text")
    .attr("x", (x0 + x1) / 2).attr("y", y1 + 20.5)
    .attr("text-anchor", "middle")
    .attr("fill", "#1a1a1a")
    .style("font-size", "8px")
    .text("Genome Length (Base Pairs)");

  const axisW = yAxis.node().getBBox().width;
  const tx = x0 - axisW - 2.5;
  const ty = (y0 + y1) / 2;
  g.append("text")
    .attr("transform", `translate(${tx},${ty}) rotate(-90)`)
    .attr("text-anchor", "middle")
    .attr("fill", "#1a1a1a")
    .style("font-size", "8px")
    .text("Trait Abundance (Gene Frequency)");
});

// Legend
const legend = svg.append("g").attr("transform", "translate(944,0)");
legend.append("text")
  .attr("x", 4).attr("y", 87)
  .attr("fill", "#000")
  .style("font-size", "32px")
  .text("Habitat");
legend.append("line")
  .attr("x1", 4).attr("x2", 106)
  .attr("y1", 91.5).attr("y2", 91.5)
  .attr("stroke", "#000").attr("stroke-width", 2.2);

const items = legend.selectAll("g.item")
  .data(habitats)
  .join("g")
  .attr("class", "item")
  .attr("transform", (d, i) => `translate(0,${100 + i * 45.8})`);
items.append("rect")
  .attr("width", 39).attr("height", 39)
  .attr("fill", (d, i) => habitatColors[i])
  .attr("stroke", "#ffffff").attr("stroke-opacity", 0.5).attr("stroke-width", 1);
items.append("text")
  .attr("x", 51).attr("y", 24.5)
  .attr("dy", "0.35em")
  .attr("fill", "#111")
  .style("font-size", "21px")
  .text(d => d);
</script>
</body>
</html>
